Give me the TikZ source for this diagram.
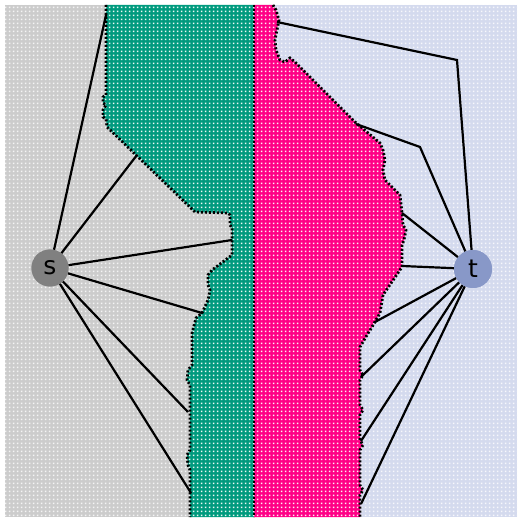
\documentclass[tikz,border=0pt]{standalone}
\usepackage{fontspec}
\setmainfont{DejaVu Sans}
\usetikzlibrary{patterns}
\pgfdeclarepatternformonly{pixdots}{\pgfpoint{0pt}{0pt}}{\pgfpoint{4pt}{4pt}}{\pgfpoint{4pt}{4pt}}{\pgfpathrectangle{\pgfpoint{1pt}{1pt}}{\pgfpoint{2pt}{2pt}}\pgfusepath{fill}}
\definecolor{greybg}{HTML}{CCCCCC}
\definecolor{greydot}{HTML}{F4F4F4}
\definecolor{lavbg}{HTML}{D4DAEE}
\definecolor{lavdot}{HTML}{F6F7FC}
\definecolor{greenreg}{HTML}{009A7E}
\definecolor{greendot}{HTML}{ECF9F5}
\definecolor{magreg}{HTML}{FF0086}
\definecolor{magdot}{HTML}{FFEEF5}
\definecolor{snode}{HTML}{808080}
\definecolor{tnode}{HTML}{8898C8}
\tikzset{
  dotsfill/.style={pattern=pixdots, pattern color=#1},
  segedge/.style={draw=black, line width=2.8pt, dash pattern=on 2pt off 2pt},
  link/.style={draw=black, line width=2.2pt},
  term/.style={circle, minimum size=37pt, inner sep=0pt, font=\fontsize{25}{25}\selectfont},
}
\begin{document}
\begin{tikzpicture}[x=1pt,y=-1pt]
\useasboundingbox (0,0) rectangle (522,521);
\fill[white] (0,0) rectangle (522,521);
% backgrounds
\fill[greybg] (5,5) rectangle (254,517);
\fill[dotsfill=greydot] (5,5) rectangle (254,517);
\fill[lavbg] (254,5) rectangle (517,517);
\fill[dotsfill=lavdot] (254,5) rectangle (517,517);
% green region
\def\greenpath{(106,5) -- (106,95) -- (103,97) -- (103,103) -- (106,105) -- (103,110) -- (103,117) -- (106,119) -- (107,127) -- (195,212) -- (228,213) -- (230,215) -- (230,225) -- (232,228) -- (232,255) -- (212,270) -- (208,275) -- (208,285) -- (210,290) -- (208,300) -- (202,313) -- (196,318) -- (192,333) -- (192,365) -- (188,370) -- (187,380) -- (190,385) -- (190,450) -- (187,455) -- (188,465) -- (190,470) -- (190,517)}
\fill[greenreg] \greenpath -- (254,517) -- (254,5) -- cycle;
\fill[dotsfill=greendot] \greenpath -- (254,517) -- (254,5) -- cycle;
% magenta region
\def\magpath{(273,5) -- (276,10) -- (279,20) -- (277,30) -- (275,40) -- (276,50) -- (280,60) -- (285,62) -- (290,58) -- (295,62) -- (355,122) -- (380,143) -- (383,150) -- (385,160) -- (383,170) -- (385,180) -- (400,195) -- (402,213) -- (403,225) -- (406,230) -- (404,240) -- (402,245) -- (402,267) -- (383,295) -- (380,313) -- (372,327) -- (367,335) -- (360,347) -- (360,370) -- (363,375) -- (360,380) -- (360,405) -- (363,410) -- (360,415) -- (360,440) -- (363,445) -- (360,450) -- (360,485) -- (363,490) -- (360,495) -- (360,517)}
\fill[magreg] \magpath -- (254,517) -- (254,5) -- cycle;
\fill[dotsfill=magdot] \magpath -- (254,517) -- (254,5) -- cycle;
% boundaries
\path[segedge] \greenpath;
\path[segedge] \magpath;
\draw[black, line width=1.5pt, dash pattern=on 2pt off 2pt] (254,5) -- (254,517);
% nodes
\node[term, fill=snode] (s) at (50,268) {s};
\node[term, fill=tnode, minimum size=38pt] (t) at (473,269) {t};
% connector end points
\coordinate (g1) at (106,15);
\coordinate (g2) at (137,155);
\coordinate (g3) at (232,240);
\coordinate (g4) at (202,313);
\coordinate (g5) at (188,412);
\coordinate (g6) at (191,493);
\coordinate (m1) at (277,22);
\coordinate (b1) at (457,60);
\coordinate (m2) at (356,124);
\coordinate (b2) at (420,147);
\coordinate (m3) at (402,213);
\coordinate (m4) at (402,266);
\coordinate (m5) at (375,322);
\coordinate (m6) at (361,377);
\coordinate (m7) at (361,441);
\coordinate (m8) at (361,504);
\foreach \g in {g1,g2,g3,g4,g5,g6}{\path[link] (s) -- (\g);}
\path[link] (t) -- (b1) -- (m1);
\path[link] (t) -- (b2) -- (m2);
\foreach \m in {m3,m4,m5,m6,m7,m8}{\path[link] (t) -- (\m);}
\node[term, fill=snode] at (s) {s};
\node[term, fill=tnode, minimum size=38pt] at (t) {t};
\end{tikzpicture}
\end{document}
